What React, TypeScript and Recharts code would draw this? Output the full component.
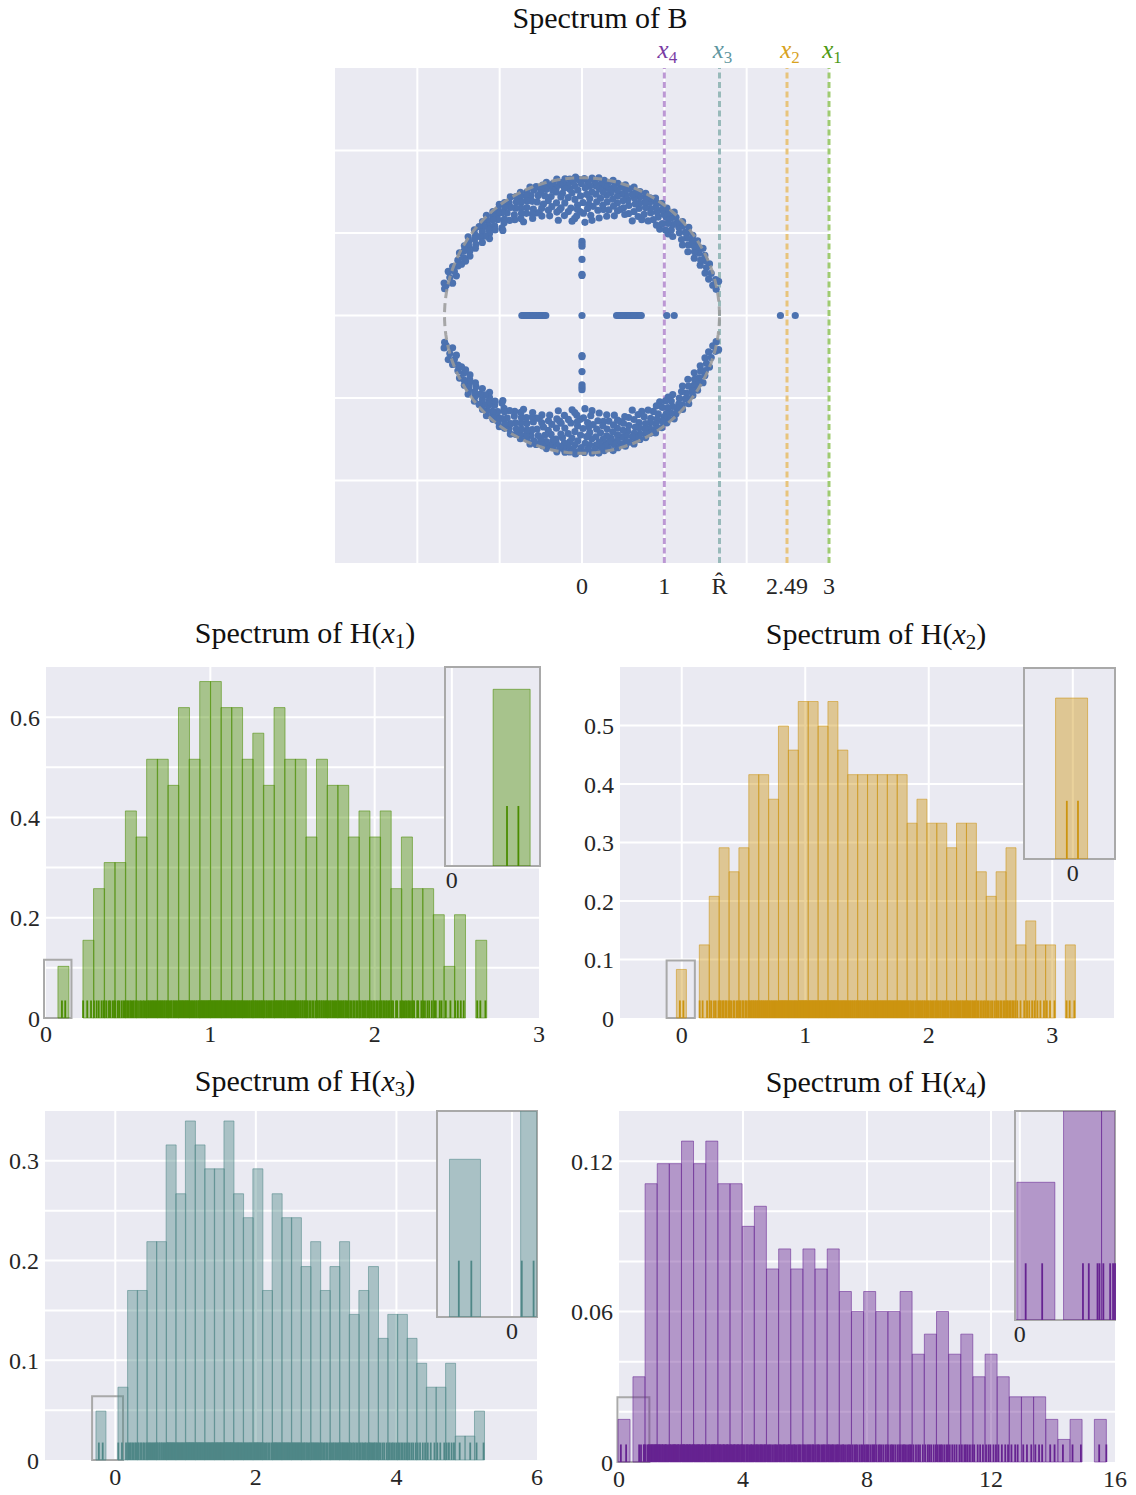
import React from "react";
import {
  ComposedChart,
  ScatterChart,
  Scatter,
  Bar,
  XAxis,
  YAxis,
  CartesianGrid,
  ReferenceLine,
  ReferenceArea,
  ErrorBar,
} from "recharts";

const FONT = '"Liberation Serif", "DejaVu Serif", serif';
const BG = "#eaeaf2";
const INK = "#262626";
const BOX = "#a9a9a9";

// ---------- spectrum of B ----------
const R_HAT = 1.67;

// upper half of the complex ring, [angle in degrees, modulus]; the lower half are the conjugates
const ringUpper: [number, number][] = [
  [11, 1.66], [13, 1.63], [14, 1.71], [15, 1.68], [16, 1.6], [18, 1.65], [19, 1.58],
  [21, 1.62], [22, 1.67], [23, 1.56], [24, 1.64], [25, 1.59], [26, 1.66], [27, 1.53], [28, 1.61], [29, 1.68], [29.5, 1.57],
  [30.5, 1.64], [31, 1.5], [32, 1.6], [32.8, 1.67], [33.5, 1.55], [34.2, 1.62], [35, 1.49], [35.8, 1.66], [36.5, 1.58], [37.3, 1.52], [38, 1.64], [38.8, 1.61], [39.5, 1.68],
  [40.3, 1.55], [41, 1.46], [41.6, 1.63], [42.3, 1.59], [43, 1.67], [43.4, 1.44], [43.7, 1.5], [44.3, 1.61], [45, 1.56], [45.6, 1.45], [46.2, 1.65], [46.9, 1.53], [47.5, 1.6], [48, 1.41], [48.2, 1.68], [48.8, 1.48], [49.3, 1.57], [49.9, 1.63],
  [50.5, 1.42], [51, 1.58], [51.6, 1.66], [52.2, 1.51], [52.8, 1.61], [53.3, 1.45], [53.9, 1.55], [54.5, 1.67], [55, 1.4], [55.6, 1.59], [56.2, 1.5], [56.7, 1.64], [57.3, 1.54], [57.9, 1.68], [58, 1.37], [58.4, 1.44], [59, 1.6], [59.5, 1.52], [59.9, 1.65],
  [60.4, 1.38], [60.9, 1.57], [61.4, 1.63], [61.9, 1.47], [62, 1.3], [62.4, 1.67], [62.9, 1.53], [63.4, 1.41], [63.9, 1.6], [64.4, 1.5], [64.9, 1.66], [65.4, 1.36], [65.9, 1.56], [66.4, 1.62], [66.9, 1.45], [67, 1.33], [67.4, 1.59], [67.9, 1.68], [68.4, 1.51], [68.9, 1.4], [69.4, 1.64], [69.8, 1.55],
  [70, 1.37], [70.3, 1.48], [70.7, 1.61], [71.2, 1.34], [71.6, 1.67], [72, 1.27], [72.1, 1.55], [72.5, 1.43], [73, 1.63], [73.4, 1.51], [73.9, 1.38], [74.3, 1.58], [74.8, 1.66], [75.2, 1.46], [75.7, 1.32], [76, 1.24], [76.1, 1.6], [76.6, 1.53], [77, 1.68], [77.5, 1.41], [77.9, 1.57], [78.4, 1.49], [78.5, 1.31], [78.8, 1.64], [79.3, 1.36], [79.7, 1.59],
  [80, 1.2], [80.2, 1.52], [80.6, 1.66], [81, 1.44], [81.4, 1.29], [81.8, 1.61], [82.2, 1.55], [82.6, 1.39], [83, 1.68], [83.4, 1.48], [83.8, 1.58], [84, 1.16], [84.2, 1.33], [84.6, 1.63], [85, 1.22], [85.4, 1.5], [85.8, 1.67], [86.2, 1.42], [86.5, 1.35], [86.6, 1.57], [87, 1.3], [87.4, 1.62], [87.8, 1.47], [88.2, 1.13], [88.6, 1.55], [89, 1.66], [89.2, 1.24], [89.5, 1.37],
  [90.3, 1.6], [90.7, 1.45], [91.1, 1.26], [91.5, 1.65], [91.9, 1.52], [92.3, 1.34], [92.5, 1.29], [92.7, 1.68], [93, 1.21], [93.1, 1.57], [93.5, 1.41], [93.9, 1.62], [94.3, 1.18], [94.7, 1.49], [95.1, 1.66], [95.5, 1.54], [95.9, 1.31], [96, 1.15], [96.3, 1.59], [96.7, 1.44], [97.1, 1.67], [97.5, 1.27], [97.9, 1.56], [98.3, 1.63], [98.7, 1.38], [99.1, 1.5], [99.6, 1.61],
  [100, 1.23], [100.1, 1.46], [100.5, 1.68], [101, 1.33], [101.4, 1.58], [101.9, 1.53], [102, 1.31], [102.3, 1.64], [102.8, 1.4], [103.2, 1.56], [103.7, 1.29], [104, 1.19], [104.1, 1.62], [104.6, 1.49], [105, 1.67], [105.5, 1.37], [105.9, 1.59], [106.4, 1.45], [106.8, 1.65], [107.3, 1.52], [107.7, 1.34], [108, 1.27], [108.2, 1.61], [108.6, 1.57], [109.1, 1.43], [109.6, 1.66],
  [110.1, 1.55], [110.6, 1.39], [111.1, 1.63], [111.6, 1.48], [112, 1.3], [112.1, 1.68], [112.6, 1.35], [113.1, 1.58], [113.6, 1.51], [114, 1.36], [114.1, 1.64], [114.6, 1.42], [115.1, 1.6], [115.6, 1.54], [116.1, 1.37], [116.6, 1.67], [117, 1.32], [117.1, 1.47], [117.6, 1.62], [118.1, 1.56], [118.6, 1.41], [119.1, 1.65], [119.6, 1.5],
  [120.1, 1.59], [120.7, 1.44], [121.2, 1.68], [121.8, 1.53], [122, 1.34], [122.3, 1.39], [122.9, 1.63], [123.4, 1.57], [124, 1.47], [124.5, 1.66], [125.1, 1.42], [125.6, 1.61], [126.2, 1.54], [126.7, 1.68], [127.3, 1.45], [127.8, 1.58], [128.4, 1.64], [128.9, 1.5], [129.5, 1.6],
  [130.1, 1.47], [130.7, 1.66], [131.3, 1.55], [131.9, 1.62], [132.5, 1.44], [133, 1.41], [133.1, 1.59], [133.7, 1.68], [134.3, 1.52], [134.9, 1.63], [135.5, 1.48], [136.1, 1.57], [136.7, 1.66], [137.3, 1.54], [137.9, 1.61], [138.5, 1.5], [139.2, 1.65],
  [140, 1.58], [140.3, 1.46], [140.7, 1.52], [141.5, 1.67], [142.3, 1.56], [143, 1.62], [143.8, 1.5], [144.6, 1.6], [145.4, 1.68], [146.2, 1.55], [147, 1.64], [147.8, 1.53], [148.6, 1.61], [149.4, 1.66],
  [150.3, 1.57], [151.2, 1.63], [152.1, 1.54], [153, 1.67], [154, 1.6], [155, 1.56], [156, 1.65], [157, 1.59], [158.2, 1.62], [159.3, 1.68],
  [161, 1.64], [161.8, 1.71], [162.5, 1.6], [164, 1.67], [166, 1.62], [166.8, 1.72], [167.5, 1.69], [169, 1.7],
];
const realEigs = [
  -0.73, -0.71, -0.69, -0.67, -0.655, -0.64, -0.62, -0.6, -0.585, -0.57, -0.55, -0.53, -0.515, -0.5, -0.48, -0.46, -0.44,
  0, 0.42, 0.44, 0.455, 0.47, 0.49, 0.51, 0.53, 0.545, 0.56, 0.58, 0.6, 0.62, 0.635, 0.65, 0.67, 0.69, 0.705, 0.72,
  1.03, 1.12, 2.41, 2.59,
];
const imagUpper = [0.9, 0.87, 0.84, 0.68, 0.5, 0.485];

const markerX = [3, 2.49, R_HAT, 1];
const markerSub = ["1", "2", "3", "4"];
const markerLine = ["#9fcb72", "#e8c47c", "#98baba", "#bc98d4"];
const markerText = ["#4e9a14", "#d8a21e", "#5f96a0", "#7a3ca4"];
const bTicks = [0, 1, R_HAT, 2.49, 3];
const bTickLabels = ["0", "1", "R\u0302", "2.49", "3"];

// ---------- spectra of H(x_i): histogram densities + rug values ----------
const h1Start = 0.2248;
const h1Width = 0.0646;
const h1Heights = [0.155, 0.258, 0.31, 0.31, 0.413, 0.361, 0.516, 0.516, 0.464, 0.619, 0.516, 0.671, 0.671, 0.619, 0.619, 0.516, 0.568, 0.464, 0.619, 0.516, 0.516, 0.361, 0.516, 0.464, 0.464, 0.361, 0.413, 0.361, 0.413, 0.258, 0.361, 0.258, 0.258, 0.206, 0.103, 0.206, 0, 0.155];
const h1Near = [0.0726, 0.1372, 0.103];
const h1Rug = [
  0.097, 0.117,
  0.226, 0.251, 0.274, 0.292, 0.308, 0.321, 0.338, 0.35, 0.357, 0.368, 0.383, 0.39, 0.405, 0.414,
  0.422, 0.437, 0.445, 0.459, 0.47, 0.479, 0.486, 0.495, 0.502, 0.512, 0.518, 0.528, 0.534, 0.544,
  0.551, 0.56, 0.572, 0.579, 0.59, 0.597, 0.608, 0.614, 0.622, 0.627, 0.635, 0.64, 0.648, 0.652, 0.66, 0.665, 0.673,
  0.679, 0.684, 0.693, 0.697, 0.705, 0.71, 0.718, 0.723, 0.731, 0.738, 0.744, 0.751, 0.76, 0.765, 0.775, 0.78, 0.789, 0.794, 0.803,
  0.808, 0.815, 0.818, 0.826, 0.829, 0.836, 0.84, 0.847, 0.851, 0.858, 0.861, 0.868,
  0.873, 0.878, 0.887, 0.891, 0.9, 0.904, 0.913, 0.917, 0.926, 0.93,
  0.937, 0.944, 0.947, 0.954, 0.957, 0.964, 0.967, 0.974, 0.977, 0.984, 0.987, 0.993, 0.997,
  1.002, 1.006, 1.013, 1.016, 1.023, 1.026, 1.033, 1.036, 1.043, 1.046, 1.053, 1.056, 1.062,
  1.067, 1.071, 1.078, 1.082, 1.089, 1.092, 1.1, 1.103, 1.11, 1.114, 1.121, 1.125,
  1.131, 1.135, 1.142, 1.146, 1.153, 1.156, 1.164, 1.167, 1.174, 1.178, 1.185, 1.19,
  1.196, 1.201, 1.209, 1.214, 1.222, 1.227, 1.235, 1.24, 1.248, 1.253,
  1.26, 1.265, 1.273, 1.276, 1.284, 1.288, 1.296, 1.3, 1.308, 1.312, 1.319,
  1.325, 1.331, 1.34, 1.345, 1.354, 1.359, 1.368, 1.373, 1.382,
  1.39, 1.394, 1.401, 1.405, 1.412, 1.415, 1.423, 1.426, 1.433, 1.436, 1.444, 1.448,
  1.455, 1.46, 1.468, 1.473, 1.481, 1.486, 1.494, 1.499, 1.507, 1.512,
  1.519, 1.524, 1.533, 1.537, 1.546, 1.55, 1.559, 1.563, 1.572, 1.577,
  1.585, 1.592, 1.603, 1.61, 1.621, 1.628, 1.64,
  1.648, 1.653, 1.662, 1.666, 1.675, 1.679, 1.688, 1.692, 1.701, 1.706,
  1.713, 1.719, 1.728, 1.733, 1.742, 1.747, 1.756, 1.761, 1.769,
  1.778, 1.784, 1.793, 1.798, 1.807, 1.812, 1.821, 1.826, 1.834,
  1.842, 1.852, 1.859, 1.87, 1.877, 1.888, 1.896, 1.907, 1.914, 1.924, 1.93, 1.94, 1.946, 1.956, 1.962,
  1.971, 1.979, 1.99, 1.997, 2.009, 2.016, 2.027, 2.036, 2.043, 2.053, 2.059, 2.069, 2.075, 2.085, 2.092,
  2.104, 2.112, 2.13, 2.137, 2.156, 2.166, 2.173, 2.184, 2.192, 2.203, 2.21, 2.221,
  2.233, 2.24, 2.259, 2.265, 2.284, 2.295, 2.306, 2.321, 2.332, 2.348,
  2.363, 2.372, 2.396, 2.407, 2.433, 2.461, 2.49, 2.506, 2.524, 2.542, 2.624, 2.643, 2.674,
];

const h2Start = 0.1423;
const h2Width = 0.0801;
const h2Heights = [0.125, 0.208, 0.291, 0.25, 0.291, 0.416, 0.416, 0.374, 0.499, 0.458, 0.541, 0.541, 0.499, 0.541, 0.458, 0.416, 0.416, 0.416, 0.416, 0.416, 0.416, 0.333, 0.374, 0.333, 0.333, 0.291, 0.333, 0.333, 0.25, 0.208, 0.25, 0.291, 0.125, 0.166, 0.125, 0.125, 0, 0.125];
const h2Near = [-0.0436, 0.0371, 0.083];
const h2Rug = [
  -0.015, 0.013,
  0.145, 0.169, 0.205, 0.227, 0.24, 0.261, 0.275, 0.297,
  0.307, 0.316, 0.331, 0.339, 0.354, 0.362, 0.378, 0.39, 0.4, 0.418, 0.427, 0.445, 0.455,
  0.468, 0.476, 0.492, 0.499, 0.515, 0.523, 0.538,
  0.547, 0.553, 0.563, 0.568, 0.578, 0.584, 0.594, 0.6, 0.61, 0.616,
  0.627, 0.633, 0.643, 0.648, 0.658, 0.664, 0.674, 0.68, 0.69, 0.696,
  0.708, 0.715, 0.725, 0.732, 0.743, 0.749, 0.76, 0.766, 0.777,
  0.787, 0.791, 0.8, 0.804, 0.813, 0.817, 0.826, 0.83, 0.839, 0.843, 0.852, 0.857,
  0.867, 0.872, 0.881, 0.886, 0.895, 0.901, 0.91, 0.915, 0.924, 0.929, 0.939,
  0.947, 0.951, 0.959, 0.963, 0.971, 0.975, 0.983, 0.987, 0.995, 0.999, 1.007, 1.011, 1.019,
  1.027, 1.031, 1.039, 1.043, 1.051, 1.055, 1.063, 1.067, 1.075, 1.079, 1.087, 1.091, 1.099,
  1.107, 1.112, 1.12, 1.125, 1.133, 1.138, 1.146, 1.151, 1.159, 1.164, 1.172, 1.177,
  1.187, 1.191, 1.199, 1.203, 1.211, 1.215, 1.223, 1.227, 1.235, 1.239, 1.247, 1.251, 1.259,
  1.268, 1.273, 1.282, 1.288, 1.297, 1.302, 1.311, 1.316, 1.325, 1.331, 1.34,
  1.349, 1.355, 1.365, 1.37, 1.38, 1.386, 1.396, 1.402, 1.412, 1.418,
  1.429, 1.435, 1.445, 1.45, 1.46, 1.466, 1.476, 1.482, 1.492, 1.498,
  1.509, 1.515, 1.525, 1.53, 1.54, 1.546, 1.556, 1.562, 1.572, 1.578,
  1.589, 1.595, 1.605, 1.61, 1.62, 1.626, 1.636, 1.642, 1.652, 1.658,
  1.669, 1.675, 1.685, 1.69, 1.7, 1.706, 1.716, 1.722, 1.732, 1.738,
  1.749, 1.755, 1.765, 1.77, 1.78, 1.786, 1.796, 1.802, 1.812, 1.818,
  1.83, 1.838, 1.849, 1.857, 1.869, 1.877, 1.889, 1.897,
  1.909, 1.916, 1.927, 1.934, 1.945, 1.952, 1.963, 1.97, 1.981,
  1.991, 1.999, 2.011, 2.019, 2.031, 2.039, 2.051, 2.059,
  2.071, 2.079, 2.091, 2.099, 2.111, 2.119, 2.131, 2.139,
  2.152, 2.161, 2.174, 2.183, 2.196, 2.205, 2.219,
  2.231, 2.239, 2.251, 2.259, 2.271, 2.279, 2.291, 2.299,
  2.311, 2.319, 2.331, 2.339, 2.351, 2.359, 2.371, 2.379,
  2.393, 2.404, 2.419, 2.431, 2.446, 2.457, 2.473, 2.487, 2.504, 2.518, 2.536,
  2.552, 2.563, 2.579, 2.59, 2.606, 2.617, 2.632, 2.641, 2.654, 2.663, 2.677, 2.686, 2.7,
  2.717, 2.743, 2.773, 2.796, 2.814, 2.837, 2.856, 2.88, 2.904, 2.933, 2.956, 2.982, 3.018,
  3.116, 3.141, 3.179,
];

const h3Start = 0.038;
const h3Width = 0.1371;
const h3Heights = [0.073, 0.17, 0.17, 0.219, 0.219, 0.316, 0.267, 0.34, 0.316, 0.292, 0.292, 0.34, 0.267, 0.243, 0.292, 0.17, 0.267, 0.243, 0.243, 0.194, 0.219, 0.17, 0.194, 0.219, 0.146, 0.17, 0.194, 0.122, 0.146, 0.146, 0.122, 0.097, 0.073, 0.073, 0.097, 0.024, 0.024, 0.049];
const h3Near = [-0.275, -0.138, 0.049];
const h3Rug = [
  -0.234, -0.179,
  0.043, 0.095, 0.153, 0.182, 0.203, 0.219, 0.242, 0.259, 0.283, 0.299,
  0.319, 0.333, 0.359, 0.372, 0.398, 0.412, 0.439,
  0.454, 0.472, 0.484, 0.501, 0.514, 0.533, 0.545, 0.563, 0.576,
  0.593, 0.605, 0.625, 0.634, 0.655, 0.665, 0.686, 0.696, 0.716,
  0.729, 0.736, 0.749, 0.757, 0.769, 0.777, 0.79, 0.797, 0.811, 0.818, 0.831, 0.839, 0.854,
  0.867, 0.876, 0.891, 0.901, 0.916, 0.925, 0.94, 0.95, 0.965, 0.975, 0.991,
  1.003, 1.01, 1.022, 1.029, 1.041, 1.048, 1.06, 1.067, 1.079, 1.086, 1.098, 1.105, 1.117, 1.126,
  1.14, 1.147, 1.161, 1.168, 1.181, 1.189, 1.201, 1.208, 1.222, 1.229, 1.242, 1.25, 1.264,
  1.278, 1.286, 1.3, 1.309, 1.323, 1.331, 1.345, 1.354, 1.368, 1.376, 1.391, 1.4,
  1.415, 1.423, 1.437, 1.446, 1.46, 1.468, 1.482, 1.491, 1.505, 1.513, 1.528, 1.537,
  1.551, 1.558, 1.57, 1.577, 1.589, 1.596, 1.608, 1.615, 1.627, 1.634, 1.646, 1.653, 1.666, 1.674,
  1.689, 1.698, 1.713, 1.723, 1.738, 1.747, 1.762, 1.772, 1.787, 1.796, 1.812,
  1.827, 1.837, 1.853, 1.864, 1.88, 1.891, 1.907, 1.918, 1.934, 1.945,
  1.964, 1.972, 1.986, 1.995, 2.009, 2.017, 2.031, 2.04, 2.054, 2.062, 2.077, 2.086,
  2.102, 2.118, 2.14, 2.157, 2.179, 2.196, 2.222,
  2.238, 2.247, 2.262, 2.272, 2.287, 2.296, 2.311, 2.321, 2.336, 2.345, 2.361,
  2.376, 2.386, 2.402, 2.413, 2.429, 2.44, 2.456, 2.467, 2.483, 2.494,
  2.513, 2.523, 2.539, 2.55, 2.566, 2.577, 2.593, 2.604, 2.62, 2.631,
  2.651, 2.664, 2.684, 2.697, 2.717, 2.73, 2.75, 2.766,
  2.787, 2.799, 2.817, 2.829, 2.847, 2.859, 2.877, 2.889, 2.908,
  2.925, 2.941, 2.963, 2.98, 3.002, 3.018, 3.044,
  3.062, 3.076, 3.096, 3.11, 3.13, 3.144, 3.164, 3.18,
  3.199, 3.211, 3.229, 3.241, 3.259, 3.271, 3.289, 3.301, 3.32,
  3.339, 3.357, 3.382, 3.401, 3.426, 3.45, 3.474, 3.49, 3.512, 3.529, 3.551, 3.567, 3.593,
  3.611, 3.625, 3.645, 3.659, 3.679, 3.693, 3.713, 3.729, 3.753, 3.776, 3.806, 3.829, 3.863,
  3.888, 3.907, 3.932, 3.951, 3.976, 4.001, 4.025, 4.044, 4.069, 4.088, 4.113, 4.138,
  4.164, 4.188, 4.217, 4.241, 4.276, 4.303, 4.336, 4.375, 4.408,
  4.446, 4.488, 4.541, 4.582, 4.624, 4.681, 4.715, 4.747, 4.785, 4.819,
  4.9, 5.05, 5.14, 5.24,
];

const h4Start = 0.45;
const h4Width = 0.3917;
const h4Heights = [0.034, 0.111, 0.119, 0.119, 0.128, 0.119, 0.128, 0.111, 0.111, 0.094, 0.102, 0.077, 0.085, 0.077, 0.085, 0.077, 0.085, 0.068, 0.06, 0.068, 0.06, 0.06, 0.068, 0.043, 0.051, 0.06, 0.043, 0.051, 0.034, 0.043, 0.034, 0.026, 0.026, 0.026, 0.017, 0.009, 0.017, 0, 0.017];
const h4Near = [-0.03, 0.36, 0.017];
const h4Rug = [
  0.06, 0.23,
  0.65, 0.71, 0.8, 0.82,
  0.86, 0.93, 0.96, 0.98, 1.02, 1.04, 1.07, 1.09, 1.13, 1.14, 1.18, 1.19, 1.22,
  1.25, 1.28, 1.3, 1.32, 1.35, 1.39, 1.4, 1.42, 1.46, 1.49, 1.51, 1.53, 1.57, 1.61,
  1.64, 1.66, 1.69, 1.73, 1.75, 1.78, 1.8, 1.82, 1.85, 1.89, 1.91, 1.93, 1.97, 2.0,
  2.03, 2.06, 2.08, 2.1, 2.12, 2.15, 2.19, 2.2, 2.23, 2.27, 2.28, 2.3, 2.34, 2.37, 2.39,
  2.42, 2.44, 2.47, 2.51, 2.53, 2.56, 2.58, 2.6, 2.63, 2.67, 2.69, 2.71, 2.75, 2.78,
  2.81, 2.83, 2.86, 2.9, 2.91, 2.93, 2.97, 3.0, 3.02, 3.05, 3.07, 3.09, 3.12, 3.16, 3.18,
  3.2, 3.24, 3.26, 3.28, 3.32, 3.36, 3.38, 3.4, 3.44, 3.48, 3.5, 3.52, 3.57,
  3.6, 3.62, 3.66, 3.7, 3.72, 3.74, 3.78, 3.82, 3.84, 3.86, 3.9, 3.94, 3.96,
  3.99, 4.02, 4.06, 4.11, 4.13, 4.16, 4.2, 4.25, 4.27, 4.3, 4.35,
  4.38, 4.42, 4.45, 4.47, 4.51, 4.55, 4.58, 4.6, 4.64, 4.68, 4.71, 4.73,
  4.78, 4.83, 4.86, 4.9, 4.95, 5.0, 5.04, 5.07, 5.12,
  5.17, 5.2, 5.24, 5.29, 5.32, 5.35, 5.4, 5.45, 5.48, 5.51,
  5.56, 5.61, 5.65, 5.68, 5.73, 5.78, 5.82, 5.85, 5.91,
  5.95, 5.98, 6.03, 6.08, 6.11, 6.15, 6.18, 6.23, 6.26, 6.29,
  6.35, 6.4, 6.43, 6.46, 6.52, 6.57, 6.6, 6.64, 6.69,
  6.74, 6.77, 6.81, 6.86, 6.89, 6.92, 6.97, 7.02, 7.05, 7.08,
  7.13, 7.19, 7.23, 7.26, 7.32, 7.38, 7.42, 7.46,
  7.53, 7.59, 7.64, 7.68, 7.75, 7.81, 7.86,
  7.92, 7.97, 8.01, 8.05, 8.11, 8.17, 8.21, 8.25,
  8.31, 8.38, 8.42, 8.47, 8.53, 8.6, 8.65,
  8.7, 8.77, 8.81, 8.86, 8.92, 8.99, 9.04,
  9.09, 9.15, 9.19, 9.23, 9.29, 9.35, 9.39, 9.43,
  9.5, 9.58, 9.65, 9.71, 9.8, 9.88, 9.96, 10.01, 10.07, 10.15, 10.22,
  10.27, 10.33, 10.38, 10.42, 10.49, 10.56, 10.61, 10.67, 10.75, 10.82, 10.89, 10.98,
  11.06, 11.14, 11.19, 11.25, 11.32, 11.4, 11.46, 11.57, 11.65, 11.74,
  11.84, 11.92, 11.98, 12.08, 12.16, 12.24, 12.35, 12.46, 12.55,
  12.66, 12.78, 12.86, 13.04, 13.16, 13.3, 13.43, 13.55, 13.65,
  13.91, 14.05, 14.32, 14.63, 14.9, 15.49, 15.72,
];

const tickStyle = { fontFamily: FONT, fontSize: 24, fill: INK };

function binsOf(start: number, width: number, heights: number[], near: number[]) {
  const rows = heights.map((h, i) => ({ x: start + (i + 0.5) * width, h }));
  rows.unshift({ x: (near[0] + near[1]) / 2, h: near[2] });
  return rows;
}

const panels = [
  {
    sub: "1", color: "#4a8c00", bins: binsOf(h1Start, h1Width, h1Heights, h1Near), rug: h1Rug, rugH: 0.035,
    left: 0, top: 660, w: 545, h: 400, margin: { top: 7, right: 6, bottom: 0, left: 0 }, yAxisW: 46, xAxisH: 42, xTickMargin: 7,
    xDomain: [0, 3], yDomain: [0, 0.7], xTicks: [0, 1, 2, 3], yTicks: [0, 0.2, 0.4, 0.6],
    gridX: [1, 2], gridY: [0.1, 0.2, 0.3, 0.4, 0.5, 0.6],
    titleX: 305, titleY: 633,
    inset: { left: 445, top: 667, w: 95, h: 199, xDomain: [-0.012, 0.155], yDomain: [0, 0.116] },
  },
  {
    sub: "2", color: "#cc9410", bins: binsOf(h2Start, h2Width, h2Heights, h2Near), rug: h2Rug, rugH: 0.03,
    left: 570, top: 660, w: 560, h: 400, margin: { top: 7, right: 16, bottom: 0, left: 0 }, yAxisW: 50, xAxisH: 42, xTickMargin: 8,
    xDomain: [-0.5, 3.5], yDomain: [0, 0.6], xTicks: [0, 1, 2, 3], yTicks: [0, 0.1, 0.2, 0.3, 0.4, 0.5],
    gridX: [0, 1, 2, 3], gridY: [0.1, 0.2, 0.3, 0.4, 0.5],
    titleX: 876, titleY: 634,
    inset: { left: 1024, top: 668, w: 91, h: 191, xDomain: [-0.1226, 0.106], yDomain: [0, 0.0985] },
  },
  {
    sub: "3", color: "#4f8787", bins: binsOf(h3Start, h3Width, h3Heights, h3Near), rug: h3Rug, rugH: 0.0175,
    left: 0, top: 1100, w: 545, h: 395, margin: { top: 11, right: 8, bottom: 0, left: 0 }, yAxisW: 45, xAxisH: 35, xTickMargin: 8,
    xDomain: [-1, 6], yDomain: [0, 0.35], xTicks: [0, 2, 4, 6], yTicks: [0, 0.1, 0.2, 0.3],
    gridX: [0, 2, 4], gridY: [0.05, 0.1, 0.15, 0.2, 0.25, 0.3],
    titleX: 305, titleY: 1081,
    inset: { left: 437, top: 1111, w: 100, h: 206, xDomain: [-0.33, 0.11], yDomain: [0, 0.064] },
  },
  {
    sub: "4", color: "#662391", bins: binsOf(h4Start, h4Width, h4Heights, h4Near), rug: h4Rug, rugH: 0.007,
    left: 570, top: 1100, w: 560, h: 395, margin: { top: 11, right: 15, bottom: 0, left: 0 }, yAxisW: 49, xAxisH: 33, xTickMargin: 8,
    xDomain: [0, 16], yDomain: [0, 0.14], xTicks: [0, 4, 8, 12, 16], yTicks: [0, 0.06, 0.12],
    gridX: [4, 8, 12], gridY: [0.02, 0.04, 0.06, 0.08, 0.1, 0.12],
    titleX: 876, titleY: 1082,
    inset: { left: 1015, top: 1111, w: 100, h: 209, xDomain: [-0.05, 0.98], yDomain: [0, 0.0258] },
  },
];

function Title({ x, y, children }: { x: number; y: number; children: React.ReactNode }) {
  return (
    <div
      style={{
        position: "absolute", left: x - 250, top: y - 18, width: 500, height: 36,
        lineHeight: "36px", textAlign: "center", fontSize: 30, color: "#111", whiteSpace: "nowrap",
      }}
    >
      {children}
    </div>
  );
}

const subStyle: React.CSSProperties = { fontSize: "0.7em", verticalAlign: "-0.25em", lineHeight: 0 };

function SpectrumB() {
  const pts: { x: number; y: number }[] = [];
  ringUpper.forEach(([deg, r]) => {
    const t = (deg * Math.PI) / 180;
    pts.push({ x: r * Math.cos(t), y: r * Math.sin(t) });
    pts.push({ x: r * Math.cos(t), y: -r * Math.sin(t) });
  });
  realEigs.forEach((v) => pts.push({ x: v, y: 0 }));
  imagUpper.forEach((v) => {
    pts.push({ x: 0, y: v });
    pts.push({ x: 0, y: -v });
  });
  const circle = Array.from({ length: 181 }, (_, i) => {
    const t = (i * 2 * Math.PI) / 180;
    return { x: R_HAT * Math.cos(t), y: R_HAT * Math.sin(t) };
  });

  return (
    <ScatterChart width={600} height={580} margin={{ top: 38, right: 41, bottom: 0, left: 65 }}>
      <CartesianGrid
        fill={BG}
        fillOpacity={1}
        stroke="#ffffff"
        strokeWidth={2}
        verticalValues={[-2, -1, 0, 1, 2]}
        horizontalValues={[-2, -1, 0, 1, 2]}
      />
      <XAxis
        type="number"
        dataKey="x"
        domain={[-3, 3]}
        ticks={bTicks}
        interval={0}
        tickFormatter={(v: number, i: number) => bTickLabels[i] ?? String(v)}
        axisLine={false}
        tickLine={false}
        tickSize={0}
        tickMargin={14}
        height={47}
        tick={tickStyle}
      />
      <YAxis type="number" dataKey="y" domain={[-3, 3]} hide />
      <Scatter
        data={pts}
        isAnimationActive={false}
        shape={(p: any) => <circle cx={p.cx} cy={p.cy} r={3.6} fill="#4c72b0" />}
      />
      <Scatter
        data={circle}
        isAnimationActive={false}
        line={{ stroke: "#9a9a9a", strokeWidth: 3, strokeDasharray: "9 5", strokeOpacity: 0.85 }}
        lineType="joint"
        shape={() => <g />}
      />
      {markerX.map((x, i) => (
        <ReferenceLine
          key={i}
          x={x}
          stroke={markerLine[i]}
          strokeWidth={3}
          strokeDasharray="6 3.5"
          label={(props: any) => {
            const vb = props.viewBox || {};
            return (
              <text
                x={(vb.x ?? 0) + 3}
                y={(vb.y ?? 0) - 10}
                textAnchor="middle"
                fontFamily={FONT}
                fontSize={25}
                fontStyle="italic"
                fill={markerText[i]}
              >
                x
                <tspan fontSize={17} fontStyle="normal" dy={5}>
                  {markerSub[i]}
                </tspan>
              </text>
            );
          }}
        />
      ))}
    </ScatterChart>
  );
}

type PlotProps = {
  bins: { x: number; h: number }[];
  rug: number[];
  rugH: number;
  color: string;
  w: number;
  h: number;
  margin: { top: number; right: number; bottom: number; left: number };
  xDomain: number[];
  yDomain: number[];
  xTicks: number[];
  yTicks: number[];
  gridX: number[];
  gridY: number[];
  yAxisW: number;
  xAxisH: number;
  xTickMargin: number;
  box: number[];
  inset: boolean;
};

function HistPlot(p: PlotProps) {
  const rugData = p.rug.map((v) => ({ x: v, y: 0, tick: [0, p.rugH] }));
  return (
    <ComposedChart width={p.w} height={p.h} data={p.bins} margin={p.margin} barCategoryGap={0} barGap={0}>
      <CartesianGrid
        xAxisId="h"
        fill={BG}
        fillOpacity={1}
        stroke="#ffffff"
        strokeWidth={2}
        vertical={p.gridX.length > 0}
        horizontal={p.gridY.length > 0}
        verticalValues={p.gridX}
        horizontalValues={p.gridY}
      />
      <XAxis
        xAxisId="h"
        dataKey="x"
        type="number"
        domain={p.xDomain}
        ticks={p.xTicks}
        interval={0}
        allowDataOverflow={p.inset}
        axisLine={false}
        tickLine={false}
        tickSize={0}
        tickMargin={p.xTickMargin}
        height={p.xAxisH}
        tick={tickStyle}
      />
      <XAxis xAxisId="r" dataKey="x" type="number" domain={p.xDomain} allowDataOverflow={p.inset} hide />
      <YAxis
        type="number"
        domain={p.yDomain}
        ticks={p.yTicks}
        interval={0}
        allowDataOverflow={p.inset}
        hide={p.inset}
        width={p.yAxisW}
        axisLine={false}
        tickLine={false}
        tickSize={0}
        tickMargin={6}
        tick={tickStyle}
      />
      <Bar
        xAxisId="h"
        dataKey="h"
        fill={p.color}
        fillOpacity={0.42}
        stroke={p.color}
        strokeOpacity={0.55}
        strokeWidth={1}
        isAnimationActive={false}
      />
      <Scatter xAxisId="r" data={rugData} dataKey="y" shape={() => <g />} isAnimationActive={false}>
        <ErrorBar dataKey="tick" direction="y" width={0} stroke={p.color} strokeWidth={1.8} isAnimationActive={false} />
      </Scatter>
      <ReferenceArea
        xAxisId="h"
        x1={p.box[0]}
        x2={p.box[1]}
        y1={p.box[2]}
        y2={p.box[3]}
        fill="none"
        stroke={BOX}
        strokeWidth={2}
        ifOverflow="visible"
      />
    </ComposedChart>
  );
}

function Panel({ cfg }: { cfg: (typeof panels)[number] }) {
  const ins = cfg.inset;
  const box = [ins.xDomain[0], ins.xDomain[1], ins.yDomain[0], ins.yDomain[1]];
  return (
    <>
      <Title x={cfg.titleX} y={cfg.titleY}>
        Spectrum of H(<span style={{ fontStyle: "italic" }}>x</span>
        <sub style={subStyle}>{cfg.sub}</sub>)
      </Title>
      <div style={{ position: "absolute", left: cfg.left, top: cfg.top }}>
        <HistPlot
          bins={cfg.bins}
          rug={cfg.rug}
          rugH={cfg.rugH}
          color={cfg.color}
          w={cfg.w}
          h={cfg.h}
          margin={cfg.margin}
          xDomain={cfg.xDomain}
          yDomain={cfg.yDomain}
          xTicks={cfg.xTicks}
          yTicks={cfg.yTicks}
          gridX={cfg.gridX}
          gridY={cfg.gridY}
          yAxisW={cfg.yAxisW}
          xAxisH={cfg.xAxisH}
          xTickMargin={cfg.xTickMargin}
          box={box}
          inset={false}
        />
      </div>
      <div style={{ position: "absolute", left: ins.left - 2, top: ins.top - 2 }}>
        <HistPlot
          bins={cfg.bins}
          rug={cfg.rug}
          rugH={cfg.rugH}
          color={cfg.color}
          w={ins.w + 4}
          h={ins.h + 4 + 30}
          margin={{ top: 2, right: 2, bottom: 2, left: 2 }}
          xDomain={ins.xDomain}
          yDomain={ins.yDomain}
          xTicks={[0]}
          yTicks={[]}
          gridX={[0]}
          gridY={[]}
          yAxisW={0}
          xAxisH={30}
          xTickMargin={5}
          box={box}
          inset={true}
        />
      </div>
    </>
  );
}

export default function App() {
  return (
    <div
      style={{
        position: "absolute", left: 0, top: 0, width: 1136, height: 1495,
        background: "#ffffff", fontFamily: FONT, color: INK,
      }}
    >
      <style>{`svg text, svg tspan { font-family: "Liberation Serif", "DejaVu Serif", serif !important; }`}</style>
      <Title x={600} y={18}>Spectrum of B</Title>
      <div style={{ position: "absolute", left: 270, top: 30 }}>
        <SpectrumB />
      </div>
      {panels.map((cfg) => (
        <Panel key={cfg.sub} cfg={cfg} />
      ))}
    </div>
  );
}
